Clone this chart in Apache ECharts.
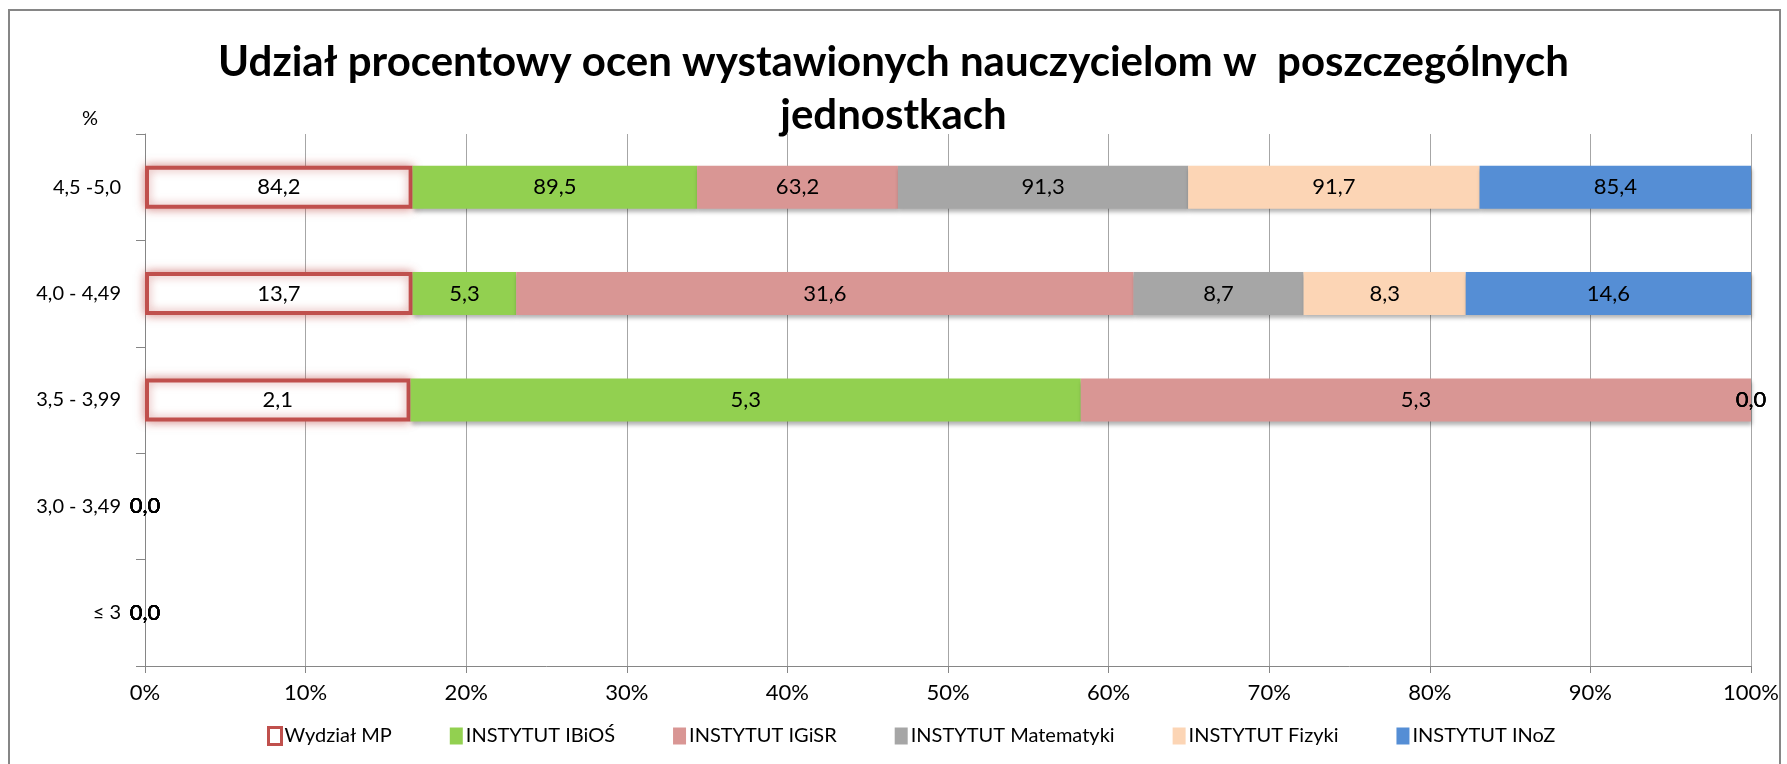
<!DOCTYPE html>
<html lang="pl">
<head>
<meta charset="utf-8">
<title>Udział procentowy ocen</title>
<script src="https://cdn.jsdelivr.net/npm/echarts@6.0.0/dist/echarts.min.js"></script>
<style>
  html, body { margin: 0; padding: 0; background: #fff; }
  #chart { width: 1787px; height: 764px; }
</style>
</head>
<body>
<div id="chart"></div>
<script>
// kategorie ocen (od góry)
const categories = ['4,5 -5,0', '4,0 - 4,49', '3,5 - 3,99', '3,0 - 3,49', '≤ 3'];

// wartości dla jednostek
const seriesNames = ['Wydział MP', 'INSTYTUT IBiOŚ', 'INSTYTUT IGiSR', 'INSTYTUT Matematyki', 'INSTYTUT Fizyki', 'INSTYTUT INoZ'];
const wydzialMP = [84.2, 13.7, 2.1, 0, 0];
const ibios = [89.5, 5.3, 5.3, 0, 0];
const igisr = [63.2, 31.6, 5.3, 0, 0];
const matematyki = [91.3, 8.7, 0, 0, 0];
const fizyki = [91.7, 8.3, 0, 0, 0];
const inoz = [85.4, 14.6, 0, 0, 0];

const xTicks = [0, 10, 20, 30, 40, 50, 60, 70, 80, 90, 100];

const colors = ['#FFFFFF', '#92D050', '#D99694', '#A6A6A6', '#FCD5B5', '#558ED5'];
const allValues = [wydzialMP, ibios, igisr, matematyki, fizyki, inoz];

// sumy w każdej kategorii -> słupki 100%
const totals = categories.map((c, i) => allValues.reduce((s, arr) => s + arr[i], 0));

const fontName = 'Lato';

const series = allValues.map((vals, k) => {
  const isMP = k === 0;
  const data = vals.map((v, i) => {
    const share = totals[i] > 0 ? v / totals[i] * 100 : 0;
    const item = { value: share, raw: v };
    if (isMP && share === 0) {
      item.itemStyle = { borderWidth: 0, shadowBlur: 0 };
    }
    return item;
  });
  return {
    name: seriesNames[k],
    type: 'bar',
    stack: 'all',
    stackStrategy: 'all',
    clip: false,
    barWidth: 43,
    data: data,
    itemStyle: isMP ? {
      color: '#FFFFFF',
      borderColor: '#C0504D',
      borderWidth: 4,
      shadowBlur: 10,
      shadowColor: 'rgba(192,80,77,0.6)'
    } : {
      color: colors[k],
      shadowBlur: 4,
      shadowOffsetX: 1,
      shadowOffsetY: 3,
      shadowColor: 'rgba(0,0,0,0.3)'
    },
    label: {
      show: true,
      position: 'inside',
      color: '#000',
      fontFamily: fontName,
      fontSize: 22,
      formatter: p => p.data.raw.toFixed(1).replace('.', ',')
    }
  };
});

const myChart = echarts.init(document.getElementById('chart'), null, { renderer: 'canvas' });

myChart.setOption({
  backgroundColor: '#fff',
  animation: false,
  title: {
    text: 'Udział procentowy ocen wystawionych nauczycielom w  poszczególnych\njednostkach',
    left: 'center',
    top: 31,
    textStyle: {
      fontFamily: fontName,
      fontWeight: 'bold',
      fontSize: 42,
      lineHeight: 53,
      color: '#000',
      align: 'center'
    }
  },
  graphic: [
    {
      type: 'rect',
      shape: { x: 9, y: 10, width: 1771, height: 800 },
      style: { fill: 'none', stroke: '#868686', lineWidth: 2 },
      silent: true
    },
    {
      type: 'text',
      left: 82,
      top: 109,
      style: { text: '%', fontFamily: fontName, fontSize: 20, fill: '#000' }
    }
  ],
  legend: {
    left: 262,
    top: 721,
    itemWidth: 13,
    itemHeight: 17,
    itemGap: 58,
    icon: 'rect',
    itemStyle: { shadowBlur: 0, shadowOffsetX: 0, shadowOffsetY: 0, borderWidth: 3 },
    textStyle: { fontFamily: fontName, fontSize: 20, color: '#000', padding: [0, 0, 0, -2] },
    data: seriesNames
  },
  grid: {
    left: 145,
    right: 36,
    top: 134,
    bottom: 98
  },
  xAxis: {
    type: 'value',
    min: xTicks[0],
    max: xTicks[xTicks.length - 1],
    interval: xTicks[1] - xTicks[0],
    axisLine: { show: true, lineStyle: { color: '#868686', width: 1 } },
    axisTick: { show: true, length: 7, lineStyle: { color: '#868686' } },
    splitLine: { show: true, lineStyle: { color: '#A6A6A6', width: 1 } },
    axisLabel: {
      margin: 16,
      fontFamily: fontName,
      fontSize: 22,
      color: '#000',
      formatter: '{value}%'
    }
  },
  yAxis: {
    type: 'category',
    inverse: true,
    data: categories,
    axisLine: { show: true, lineStyle: { color: '#868686', width: 1 } },
    axisTick: { show: true, length: 9, lineStyle: { color: '#868686' } },
    axisLabel: {
      margin: 24,
      fontFamily: fontName,
      fontSize: 20,
      color: '#000'
    }
  },
  series: series
});
</script>
</body>
</html>
